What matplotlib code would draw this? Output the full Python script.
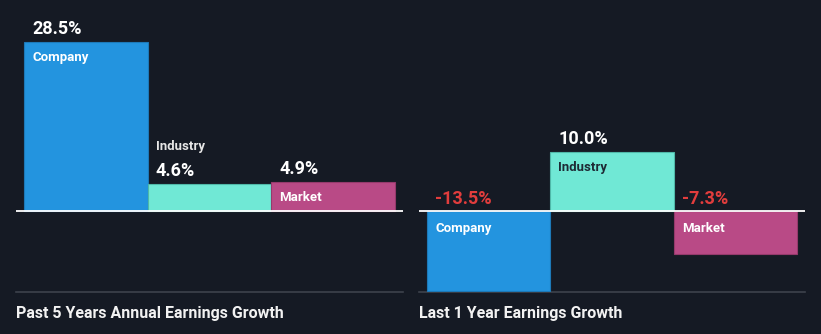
import matplotlib
matplotlib.use("Agg")
import matplotlib.pyplot as plt

categories = ["Company", "Industry", "Market"]
past_5y = [28.5, 4.6, 4.9]
last_1y = [-13.5, 10.0, -7.3]
panel_titles = ["Past 5 Years Annual Earnings Growth", "Last 1 Year Earnings Growth"]
value_labels_5y = ["28.5%", "4.6%", "4.9%"]
value_labels_1y = ["-13.5%", "10.0%", "-7.3%"]

BG = "#151a24"
bar_colors = ["#2394df", "#70e8d5", "#b94a86"]
edge_colors = ["#1d79b8", "#4fb8a8", "#953a6c"]
name_colors_inside = ["#ffffff", "#1e2a35", "#ffffff"]
RED = "#e23d3d"
FONT = ["Roboto", "DejaVu Sans"]

W, H = 821, 334
fig = plt.figure(figsize=(W / 100, H / 100), dpi=100, facecolor=BG)

PX = 72 / 100  # points per pixel
PX_PER_PCT = 5.93
top_px, bottom_px, base_px = 20, 292, 211
ylo = -(bottom_px - base_px) / PX_PER_PCT
yhi = (base_px - top_px) / PX_PER_PCT

panels = [
    (16, 403, past_5y, value_labels_5y, [False, True, False], panel_titles[0]),
    (419, 805, last_1y, value_labels_1y, [False, False, False], panel_titles[1]),
]

for x0, x1, vals, vlabels, above, title in panels:
    ax = fig.add_axes([x0 / W, (H - bottom_px) / H, (x1 - x0) / W, (bottom_px - top_px) / H])
    ax.set_facecolor(BG)
    unit = (x1 - x0 - 16) / 3
    m = 8 / unit
    ax.set_xlim(-0.5 - m, 2.5 + m)
    ax.set_ylim(ylo, yhi)
    xs = list(range(len(categories)))
    ax.bar(xs, vals, width=1.0, color=bar_colors, edgecolor=edge_colors, linewidth=0.8, zorder=2)
    ax.axhline(0, color="white", lw=1.3, zorder=3)
    for s in ["top", "left", "right"]:
        ax.spines[s].set_visible(False)
    ax.spines["bottom"].set_color("#3d424c")
    ax.spines["bottom"].set_linewidth(1.2)
    ax.spines["bottom"].set_zorder(1)
    ax.set_xticks([])
    ax.set_yticks([])

    for i, (v, lab, ab) in enumerate(zip(vals, vlabels, above)):
        xl = i - 0.5
        if v >= 0:
            ax.annotate(lab, (xl, v), xytext=(8 * PX, 8 * PX), textcoords="offset points",
                        ha="left", va="baseline", color="white", fontsize=13,
                        fontweight="bold", family=FONT, zorder=4)
            if ab:
                ax.annotate(categories[i], (xl, v), xytext=(8 * PX, 34 * PX), textcoords="offset points",
                            ha="left", va="baseline", color="#e6e6e6", fontsize=9.5,
                            fontweight="bold", family=FONT, zorder=4)
            else:
                ax.annotate(categories[i], (xl, v), xytext=(8 * PX, -19 * PX), textcoords="offset points",
                            ha="left", va="baseline", color=name_colors_inside[i], fontsize=9.5,
                            fontweight="bold", family=FONT, zorder=4)
        else:
            ax.annotate(lab, (xl, 0), xytext=(8 * PX, 7 * PX), textcoords="offset points",
                        ha="left", va="baseline", color=RED, fontsize=13,
                        fontweight="bold", family=FONT, zorder=4)
            ax.annotate(categories[i], (xl, 0), xytext=(8 * PX, -21 * PX), textcoords="offset points",
                        ha="left", va="baseline", color=name_colors_inside[i], fontsize=9.5,
                        fontweight="bold", family=FONT, zorder=4)

    fig.text(x0 / W, (H - 318) / H, title, ha="left", va="baseline", color="#f2f2f2",
             fontsize=11.5, fontweight="bold", family=FONT)

fig.savefig("out.png", dpi=100, facecolor=BG)
